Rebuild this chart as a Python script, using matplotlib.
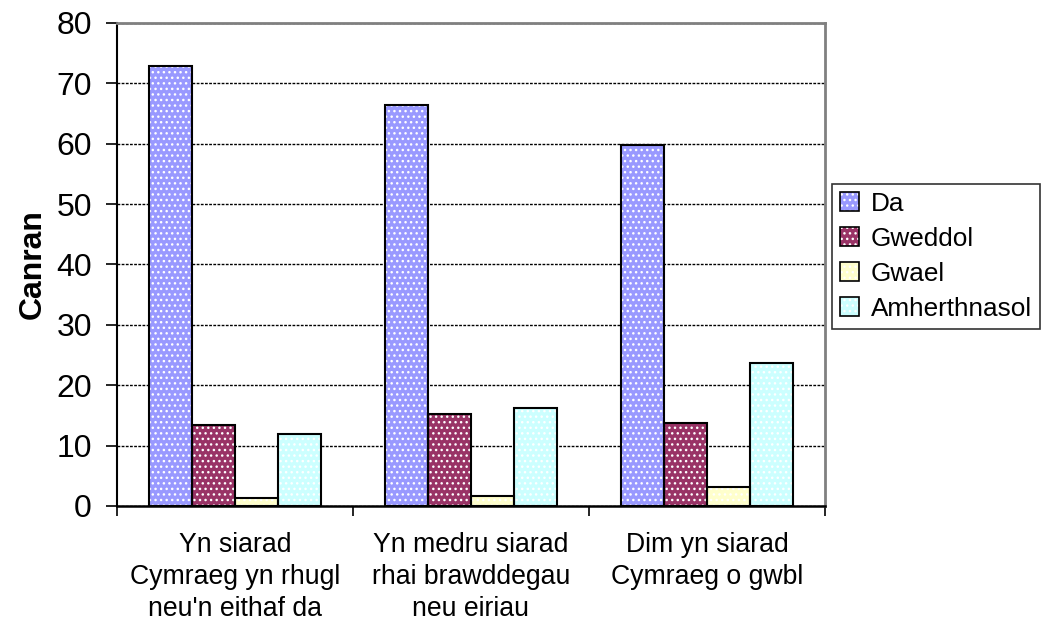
import matplotlib
matplotlib.use("Agg")
import matplotlib.pyplot as plt
import numpy as np
from matplotlib.patches import Patch
from matplotlib.legend_handler import HandlerTuple

plt.rcParams['font.family'] = ['Liberation Sans', 'DejaVu Sans']
plt.rcParams['hatch.linewidth'] = 1.0

categories = ["Yn siarad\nCymraeg yn rhugl\nneu'n eithaf da",
              "Yn medru siarad\nrhai brawddegau\nneu eiriau",
              "Dim yn siarad\nCymraeg o gwbl"]
series_names = ["Da", "Gweddol", "Gwael", "Amherthnasol"]
da = [72.9, 66.4, 59.8]
gweddol = [13.4, 15.3, 13.7]
gwael = [1.4, 1.7, 3.1]
amherthnasol = [12.0, 16.3, 23.6]
series_values = [da, gweddol, gwael, amherthnasol]
colors = ["#9999FF", "#993366", "#FFFFCC", "#CCFFFF"]
yticks = [0, 10, 20, 30, 40, 50, 60, 70, 80]

fig = plt.figure(figsize=(10.47, 6.28), dpi=100)
ax = fig.add_axes([0.1117, 0.1943, 0.6762, 0.7691])

x = np.arange(len(categories))
n = len(series_names)
w = 1.0 / (n + 1.5)
handles = []
for i, (name, vals, c) in enumerate(zip(series_names, series_values, colors)):
    pos = x + (i - (n - 1) / 2) * w
    ax.bar(pos, vals, w, color=c, edgecolor='white', linewidth=0, hatch='...', zorder=3)
    ax.bar(pos, vals, w, fill=False, edgecolor='black', linewidth=1.5, zorder=4)
    h = (Patch(facecolor=c, edgecolor='white', linewidth=0, hatch='...'),
         Patch(fill=False, edgecolor='black', linewidth=1.2))
    handles.append(h)

ax.set_xlim(-0.5, len(categories) - 0.5)
ax.set_ylim(0, 80)
ax.set_yticks(yticks)
ax.tick_params(axis='y', direction='out', length=8, width=1.2, pad=10, labelsize=23)
ax.yaxis.grid(True, linestyle=(0, (2, 1)), color='black', linewidth=1.0, zorder=1)
ax.set_axisbelow(True)

ax.set_xticks(x)
ax.set_xticklabels(categories, fontsize=19.2, linespacing=1.3)
ax.tick_params(axis='x', which='major', length=0, pad=19)
ax.set_xticks(np.arange(-0.5, len(categories), 1.0), minor=True)
ax.tick_params(axis='x', which='minor', direction='out', length=7, width=1.2)

ax.set_ylabel("Canran", fontsize=23, fontweight='bold', labelpad=6)

ax.spines['left'].set_linewidth(1.5)
ax.spines['bottom'].set_linewidth(1.8)
ax.spines['right'].set_color('#808080')
ax.spines['right'].set_linewidth(2)
ax.spines['top'].set_color('#808080')
ax.spines['top'].set_linewidth(2)

leg = fig.legend(handles, series_names, handler_map={tuple: HandlerTuple(ndivide=1)},
                 loc='center left', bbox_to_anchor=(0.7945, 0.5916), fontsize=18.8,
                 frameon=True, fancybox=False, edgecolor='black', borderpad=0.3,
                 handlelength=0.75, handleheight=0.75, handletextpad=0.45,
                 labelspacing=0.42, borderaxespad=0)
leg.get_frame().set_linewidth(1.2)

fig.savefig("out.png", dpi=100)
